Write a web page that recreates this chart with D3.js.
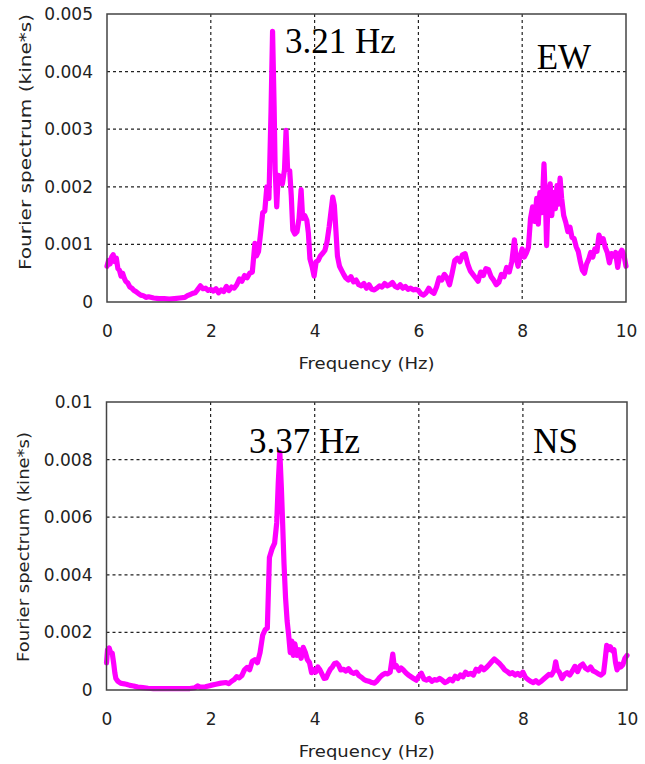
<!DOCTYPE html>
<html>
<head>
<meta charset="utf-8">
<script src="https://cdn.jsdelivr.net/npm/d3@7"></script>
<style>
  html, body { margin: 0; padding: 0; background: #fff; }
  svg { display: block; }
</style>
</head>
<body>
<svg id="chart" width="645" height="764"></svg>
<script>
// ---------- DATA ----------
const xTickValues = [0, 2, 4, 6, 8, 10];
const xTickLabels = ["0", "2", "4", "6", "8", "10"];

const ewYTickValues = [0, 0.001, 0.002, 0.003, 0.004, 0.005];
const ewYTickLabels = ["0", "0.001", "0.002", "0.003", "0.004", "0.005"];
const nsYTickValues = [0, 0.002, 0.004, 0.006, 0.008, 0.01];
const nsYTickLabels = ["0", "0.002", "0.004", "0.006", "0.008", "0.01"];

const xTitle = "Frequency (Hz)";
const yTitle = "Fourier spectrum (kine*s)";
const ewPeakLabel = "3.21 Hz";
const nsPeakLabel = "3.37 Hz";
const ewComponent = "EW";
const nsComponent = "NS";

// EW spectrum: frequency (Hz)
const ewFreq = [
 0.00,0.03,0.06,0.09,0.12,0.15,0.18,0.21,0.24,0.27,0.30,0.33,0.36,0.40,0.44,0.48,0.52,0.56,0.60,0.65,
 0.70,0.75,0.80,0.90,1.00,1.10,1.20,1.30,1.40,1.50,1.55,1.60,1.65,1.70,1.75,1.80,1.85,1.90,1.95,2.00,
 2.05,2.10,2.15,2.20,2.25,2.30,2.35,2.40,2.45,2.50,2.55,2.60,2.65,2.70,2.75,2.80,2.85,2.88,2.92,2.96,
 3.00,3.04,3.08,3.12,3.16,3.19,3.22,3.24,3.27,3.30,3.34,3.38,3.42,3.45,3.48,3.52,3.55,3.58,3.62,3.66,
 3.70,3.74,3.77,3.81,3.85,3.88,3.91,3.95,3.99,4.03,4.07,4.11,4.16,4.20,4.24,4.28,4.32,4.35,4.38,4.41,
 4.44,4.48,4.52,4.56,4.60,4.65,4.70,4.75,4.80,4.85,4.90,4.95,5.00,5.05,5.10,5.15,5.20,5.25,5.30,5.35,
 5.40,5.45,5.50,5.55,5.60,5.65,5.70,5.75,5.80,5.85,5.90,5.95,6.00,6.05,6.10,6.15,6.20,6.25,6.30,6.35,
 6.40,6.45,6.50,6.55,6.60,6.65,6.70,6.75,6.80,6.85,6.90,6.95,7.00,7.05,7.10,7.15,7.20,7.25,7.30,7.35,
 7.40,7.45,7.50,7.55,7.60,7.65,7.70,7.75,7.80,7.85,7.88,7.92,7.96,8.00,8.04,8.08,8.12,8.16,8.20,8.24,
 8.28,8.31,8.34,8.38,8.42,8.45,8.47,8.50,8.54,8.57,8.60,8.64,8.67,8.70,8.73,8.76,8.80,8.84,8.88,8.92,
 8.96,9.00,9.04,9.08,9.12,9.16,9.20,9.24,9.28,9.32,9.36,9.40,9.44,9.48,9.52,9.56,9.60,9.64,9.68,9.72,
 9.76,9.80,9.84,9.88,9.92,9.96,10.0
];
// EW spectrum amplitude (kine*s)
const ewAmp = [
 0.00062,0.00072,0.00066,0.00078,0.00082,0.00070,0.00076,0.00058,0.00055,0.00045,0.00050,0.00042,0.00036,0.00033,0.00026,0.00024,0.00020,0.00018,0.00015,0.00012,
 0.00011,0.00008,0.00009,0.00007,0.00006,0.00006,0.00005,0.00006,0.00007,0.00008,0.00011,0.00013,0.00015,0.00016,0.00022,0.00028,0.00023,0.00024,0.00020,0.00022,
 0.00019,0.00023,0.00016,0.00021,0.00018,0.00027,0.00020,0.00026,0.00024,0.00030,0.00040,0.00036,0.00046,0.00042,0.00050,0.00052,0.00102,0.00080,0.00088,0.00120,
 0.00155,0.00158,0.00200,0.00180,0.00330,0.00470,0.00340,0.00230,0.00165,0.00220,0.00218,0.00205,0.00230,0.00298,0.00230,0.00228,0.00185,0.00125,0.00118,0.00122,
 0.00145,0.00195,0.00145,0.00150,0.00142,0.00120,0.00075,0.00062,0.00045,0.00070,0.00072,0.00080,0.00085,0.00090,0.00105,0.00130,0.00160,0.00182,0.00168,0.00125,
 0.00080,0.00062,0.00055,0.00048,0.00042,0.00038,0.00044,0.00035,0.00038,0.00030,0.00028,0.00032,0.00024,0.00030,0.00022,0.00021,0.00024,0.00028,0.00026,0.00032,
 0.00028,0.00030,0.00034,0.00027,0.00025,0.00030,0.00024,0.00027,0.00022,0.00024,0.00021,0.00022,0.00020,0.00014,0.00012,0.00016,0.00024,0.00018,0.00015,0.00026,
 0.00042,0.00038,0.00048,0.00042,0.00030,0.00050,0.00072,0.00076,0.00070,0.00082,0.00084,0.00066,0.00054,0.00048,0.00042,0.00036,0.00052,0.00046,0.00058,0.00056,
 0.00044,0.00038,0.00030,0.00034,0.00048,0.00044,0.00060,0.00052,0.00070,0.00108,0.00078,0.00062,0.00080,0.00092,0.00078,0.00085,0.00095,0.00145,0.00165,0.00140,
 0.00180,0.00135,0.00190,0.00155,0.00240,0.00170,0.00098,0.00180,0.00205,0.00150,0.00190,0.00162,0.00202,0.00170,0.00215,0.00180,0.00150,0.00138,0.00122,0.00130,
 0.00112,0.00110,0.00096,0.00088,0.00070,0.00055,0.00050,0.00066,0.00074,0.00086,0.00078,0.00092,0.00088,0.00116,0.00105,0.00110,0.00095,0.00086,0.00068,0.00084,
 0.00080,0.00086,0.00060,0.00084,0.00090,0.00082,0.00062
];

// NS spectrum: frequency (Hz)
const nsFreq = [
 0.00,0.02,0.05,0.08,0.11,0.14,0.16,0.18,0.22,0.27,0.32,0.38,0.45,0.52,0.60,0.70,0.80,0.90,1.00,1.20,
 1.40,1.60,1.70,1.75,1.80,1.90,2.00,2.10,2.20,2.30,2.35,2.40,2.45,2.50,2.55,2.60,2.65,2.70,2.75,2.80,
 2.85,2.90,2.95,3.00,3.05,3.09,3.13,3.18,3.23,3.27,3.30,3.33,3.36,3.38,3.41,3.44,3.47,3.50,3.53,3.56,
 3.59,3.62,3.66,3.70,3.74,3.78,3.82,3.86,3.90,3.94,3.98,4.02,4.06,4.10,4.14,4.18,4.22,4.26,4.30,4.34,
 4.38,4.42,4.46,4.50,4.55,4.60,4.65,4.70,4.75,4.80,4.85,4.90,4.95,5.00,5.05,5.10,5.15,5.20,5.25,5.30,
 5.35,5.40,5.45,5.50,5.53,5.57,5.62,5.66,5.70,5.75,5.80,5.85,5.90,5.95,6.00,6.05,6.10,6.15,6.20,6.25,
 6.30,6.35,6.40,6.45,6.50,6.55,6.60,6.65,6.70,6.75,6.80,6.85,6.90,6.95,7.00,7.05,7.10,7.15,7.20,7.25,
 7.30,7.35,7.40,7.45,7.50,7.55,7.60,7.65,7.70,7.75,7.80,7.85,7.90,7.95,8.00,8.05,8.10,8.15,8.20,8.25,
 8.30,8.35,8.40,8.45,8.50,8.55,8.60,8.63,8.66,8.70,8.75,8.80,8.85,8.90,8.95,9.00,9.05,9.10,9.15,9.20,
 9.25,9.30,9.35,9.40,9.45,9.50,9.55,9.58,9.61,9.65,9.68,9.72,9.75,9.78,9.81,9.85,9.88,9.92,9.96,10.0
];
// NS spectrum amplitude (kine*s)
const nsAmp = [
 0.00094,0.00140,0.00146,0.00130,0.00128,0.00090,0.00060,0.00040,0.00030,0.00024,0.00022,0.00020,0.00016,0.00014,0.00010,0.00008,0.00006,0.00005,0.00005,0.00005,
 0.00005,0.00005,0.00008,0.00014,0.00010,0.00011,0.00016,0.00020,0.00024,0.00026,0.00022,0.00030,0.00036,0.00046,0.00042,0.00050,0.00070,0.00078,0.00070,0.00100,
 0.00105,0.00095,0.00130,0.00190,0.00210,0.00215,0.00460,0.00490,0.00510,0.00580,0.00720,0.00825,0.00700,0.00600,0.00440,0.00320,0.00240,0.00190,0.00130,0.00170,
 0.00120,0.00160,0.00120,0.00140,0.00110,0.00148,0.00130,0.00105,0.00095,0.00060,0.00070,0.00062,0.00080,0.00070,0.00055,0.00040,0.00042,0.00058,0.00072,0.00080,
 0.00092,0.00094,0.00086,0.00070,0.00072,0.00066,0.00074,0.00062,0.00058,0.00062,0.00050,0.00044,0.00036,0.00032,0.00030,0.00026,0.00024,0.00032,0.00044,0.00052,
 0.00058,0.00056,0.00062,0.00125,0.00080,0.00084,0.00068,0.00076,0.00070,0.00060,0.00052,0.00046,0.00040,0.00034,0.00048,0.00058,0.00038,0.00034,0.00040,0.00030,
 0.00036,0.00034,0.00040,0.00034,0.00026,0.00030,0.00038,0.00032,0.00048,0.00040,0.00052,0.00046,0.00062,0.00054,0.00058,0.00052,0.00072,0.00066,0.00080,0.00070,
 0.00078,0.00088,0.00098,0.00108,0.00100,0.00092,0.00082,0.00070,0.00064,0.00056,0.00060,0.00052,0.00058,0.00050,0.00062,0.00044,0.00036,0.00030,0.00026,0.00032,
 0.00024,0.00030,0.00038,0.00046,0.00054,0.00052,0.00068,0.00098,0.00070,0.00062,0.00040,0.00054,0.00060,0.00052,0.00066,0.00082,0.00064,0.00084,0.00090,0.00076,
 0.00070,0.00080,0.00066,0.00062,0.00056,0.00052,0.00060,0.00105,0.00155,0.00140,0.00150,0.00136,0.00140,0.00095,0.00070,0.00090,0.00080,0.00088,0.00110,0.00120
];

// ---------- DRAWING ----------
const svg = d3.select("#chart");
const LINE_COLOR = "#ff00ff";
const TICK_FONT = "'DejaVu Sans', sans-serif";
const SERIF = "'Liberation Serif', 'Times New Roman', serif";

function drawPanel(cfg) {
  const g = svg.append("g").attr("transform", `translate(${cfg.left},${cfg.top})`);
  const x = d3.scaleLinear().domain([0, 10]).range([0, cfg.width]);
  const y = d3.scaleLinear().domain([0, cfg.yMax]).range([cfg.height, 0]);

  // grid
  g.append("g").selectAll("line")
    .data(xTickValues.filter(v => v > 0 && v < 10))
    .join("line")
    .attr("x1", d => x(d)).attr("x2", d => x(d))
    .attr("y1", 0).attr("y2", cfg.height)
    .attr("stroke", "#222").attr("stroke-width", 1.2)
    .attr("stroke-dasharray", "3,3");
  g.append("g").selectAll("line")
    .data(cfg.yTicks.filter(v => v > 0 && v < cfg.yMax))
    .join("line")
    .attr("x1", 0).attr("x2", cfg.width)
    .attr("y1", d => y(d)).attr("y2", d => y(d))
    .attr("stroke", "#222").attr("stroke-width", 1.2)
    .attr("stroke-dasharray", "3,3");

  // data line
  const pts = cfg.freq.map((f, i) => [f, cfg.amp[i]]);
  g.append("path")
    .datum(pts)
    .attr("fill", "none")
    .attr("stroke", LINE_COLOR)
    .attr("stroke-width", 5.2)
    .attr("stroke-linejoin", "round")
    .attr("stroke-linecap", "round")
    .attr("d", d3.line().x(d => x(d[0])).y(d => y(d[1])));

  // frame
  g.append("rect")
    .attr("x", 0).attr("y", 0)
    .attr("width", cfg.width).attr("height", cfg.height)
    .attr("fill", "none").attr("stroke", "#444").attr("stroke-width", 1.5);

  // axes
  const xAxis = d3.axisBottom(x)
    .tickValues(xTickValues)
    .tickFormat((d, i) => xTickLabels[i])
    .tickSize(0).tickPadding(23);
  const xa = g.append("g").attr("transform", `translate(0,${cfg.height})`).call(xAxis);
  xa.select(".domain").remove();
  xa.selectAll("text").attr("font-family", TICK_FONT).attr("font-size", 17).attr("fill", "#222");

  const yAxis = d3.axisLeft(y)
    .tickValues(cfg.yTicks)
    .tickFormat((d, i) => cfg.yLabels[i])
    .tickSize(0).tickPadding(14);
  const ya = g.append("g").call(yAxis);
  ya.select(".domain").remove();
  ya.selectAll("text").attr("font-family", TICK_FONT).attr("font-size", 17).attr("fill", "#222");

  // axis titles
  g.append("text")
    .attr("x", cfg.width / 2).attr("y", cfg.height + 67)
    .attr("text-anchor", "middle")
    .attr("font-family", TICK_FONT).attr("font-size", 16).attr("fill", "#222")
    .attr("textLength", 136).attr("lengthAdjust", "spacingAndGlyphs")
    .text(xTitle);
  g.append("text")
    .attr("transform", `translate(${cfg.yTitleX - cfg.left},${cfg.yTitleY - cfg.top}) rotate(-90)`)
    .attr("text-anchor", "middle")
    .attr("font-family", TICK_FONT).attr("font-size", 16).attr("fill", "#222")
    .attr("textLength", cfg.yTitleLen).attr("lengthAdjust", "spacingAndGlyphs")
    .text(yTitle);

  // annotations
  g.append("text")
    .attr("x", x(cfg.peakX)).attr("y", cfg.peakY)
    .attr("font-family", SERIF).attr("font-size", 35).attr("fill", "#000")
    .text(cfg.peakLabel);
  g.append("text")
    .attr("x", x(cfg.compX)).attr("y", cfg.compY)
    .attr("font-family", SERIF).attr("font-size", 35).attr("fill", "#000")
    .text(cfg.compLabel);
}

drawPanel({
  left: 107, top: 14, width: 519, height: 288,
  yMax: 0.005, yTicks: ewYTickValues, yLabels: ewYTickLabels,
  freq: ewFreq, amp: ewAmp,
  yTitleX: 31, yTitleY: 142, yTitleLen: 256,
  peakLabel: ewPeakLabel, peakX: 3.43, peakY: 39,
  compLabel: ewComponent, compX: 8.28, compY: 55
});

drawPanel({
  left: 106.5, top: 402, width: 520.5, height: 288,
  yMax: 0.01, yTicks: nsYTickValues, yLabels: nsYTickLabels,
  freq: nsFreq, amp: nsAmp,
  yTitleX: 29, yTitleY: 547, yTitleLen: 230,
  peakLabel: nsPeakLabel, peakX: 2.74, peakY: 51,
  compLabel: nsComponent, compX: 8.2, compY: 51
});
</script>
</body>
</html>
